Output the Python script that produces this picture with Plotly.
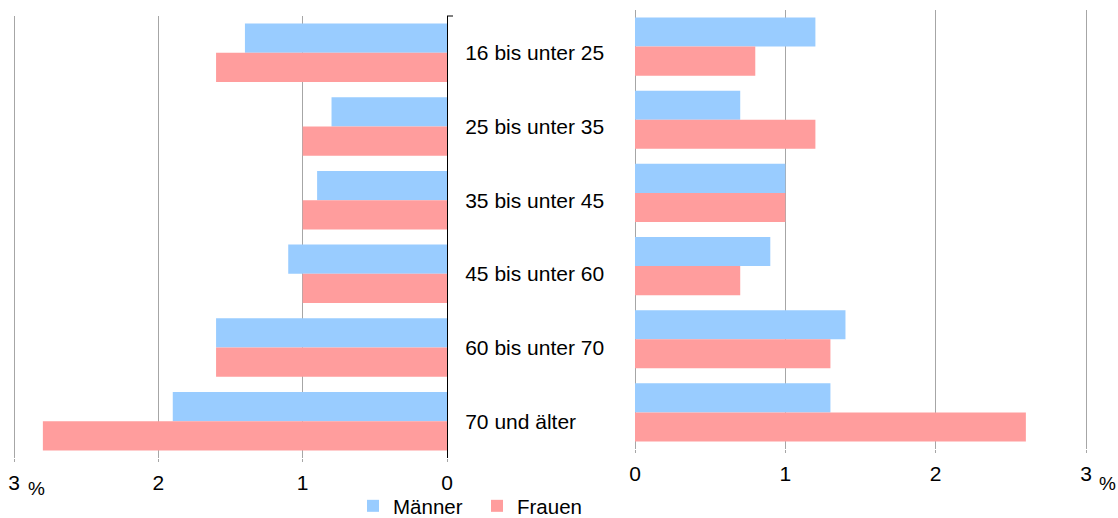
import plotly.graph_objects as go

categories = ["16 bis unter 25", "25 bis unter 35", "35 bis unter 45",
              "45 bis unter 60", "60 bis unter 70", "70 und älter"]
left_maenner = [1.4, 0.8, 0.9, 1.1, 1.6, 1.9]
left_frauen = [1.6, 1.0, 1.0, 1.0, 1.6, 2.8]
right_maenner = [1.2, 0.7, 1.0, 0.9, 1.4, 1.3]
right_frauen = [0.8, 1.2, 1.0, 0.7, 1.3, 2.6]
tick_vals = [0, 1, 2, 3]
tick_text = ["0", "1", "2", "3"]

BLUE = "#99CCFF"
RED = "#FF9D9D"
GRID = "#A6A6A6"
FONT = "Liberation Sans, Arial, sans-serif"
W, H = 1118, 518
EXT = 3.03  # range slightly beyond 3 so the gridline at 3 is drawn

fig = go.Figure()
fig.add_trace(go.Bar(y=categories, x=left_maenner, orientation="h", name="Männer",
                     marker=dict(color=BLUE, line=dict(width=0)),
                     xaxis="x", yaxis="y", legendgroup="m"))
fig.add_trace(go.Bar(y=categories, x=left_frauen, orientation="h", name="Frauen",
                     marker=dict(color=RED, line=dict(width=0)),
                     xaxis="x", yaxis="y", legendgroup="f"))
fig.add_trace(go.Bar(y=categories, x=right_maenner, orientation="h", name="Männer",
                     marker=dict(color=BLUE, line=dict(width=0)),
                     xaxis="x2", yaxis="y2", showlegend=False, legendgroup="m"))
fig.add_trace(go.Bar(y=categories, x=right_frauen, orientation="h", name="Frauen",
                     marker=dict(color=RED, line=dict(width=0)),
                     xaxis="x2", yaxis="y2", showlegend=False, legendgroup="f"))

def px_x(p):
    return p / W

def px_y(p):
    return 1 - p / H

L0, L3 = 447, 14
R0, R3 = 635, 1086
l_left = L0 - (L0 - L3) / 3 * EXT
r_right = R0 + (R3 - R0) / 3 * EXT

fig.update_layout(
    width=W, height=H,
    margin=dict(l=0, r=0, t=0, b=0, autoexpand=False),
    paper_bgcolor="white", plot_bgcolor="white",
    font=dict(family=FONT, size=21, color="#000000"),
    barmode="group", bargap=0.205, bargroupgap=0,
    xaxis=dict(domain=[px_x(l_left), px_x(L0)], range=[EXT, 0], anchor="y",
               tickvals=tick_vals, ticktext=tick_text, automargin=False,
               showgrid=True, gridcolor=GRID, gridwidth=1, zeroline=False,
               showline=False, ticks="outside", ticklen=3, tickcolor=GRID,
               ticklabelstandoff=3, fixedrange=True),
    yaxis=dict(domain=[px_y(458), px_y(16)], anchor="x", side="right",
               autorange="reversed", showgrid=False, zeroline=False,
               showline=True, linecolor="#000000", linewidth=1, automargin=False,
               ticks="", ticklabelstandoff=13),
    xaxis2=dict(domain=[px_x(R0), px_x(r_right)], range=[0, EXT], anchor="y2",
                tickvals=tick_vals, ticktext=tick_text, automargin=False,
                showgrid=True, gridcolor=GRID, gridwidth=1,
                zeroline=True, zerolinecolor=GRID, zerolinewidth=1,
                showline=False, ticks="outside", ticklen=3, tickcolor=GRID,
                ticklabelstandoff=3),
    yaxis2=dict(domain=[px_y(449), px_y(10)], anchor="x2", automargin=False,
                autorange="reversed", showgrid=False, zeroline=False,
                showline=False, showticklabels=False, ticks=""),
    legend=dict(orientation="h", x=px_x(353), xanchor="left",
                y=px_y(506), yanchor="middle", font=dict(size=20.5),
                entrywidth=79, bgcolor="rgba(0,0,0,0)"),
    showlegend=True,
)

for x, y in [(px_x(36), px_y(488)), (px_x(1107), px_y(483))]:
    fig.add_annotation(text="%", x=x, y=y, xref="paper", yref="paper",
                       xanchor="center", yanchor="middle",
                       showarrow=False, font=dict(size=19, family=FONT))

fig.add_shape(type="line", xref="paper", yref="paper",
              x0=px_x(447), x1=px_x(453), y0=px_y(16), y1=px_y(16),
              line=dict(color="#000000", width=1))

fig.write_html("out.html", config={"displayModeBar": False},
               post_script="document.body.style.margin='0';document.body.style.overflow='hidden';")
